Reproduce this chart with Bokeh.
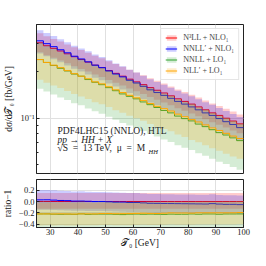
from bokeh.plotting import figure
from bokeh.layouts import column
from bokeh.models import (FixedTicker, Range1d, Legend, LegendItem, Label)
from bokeh.embed import file_html
from bokeh.resources import INLINE

# ---------------- data ----------------
t0_edges = [25.0, 27.5, 30.0, 32.5, 35.0, 37.5, 40.0, 42.5, 45.0, 47.5, 50.0,
            52.5, 55.0, 57.5, 60.0, 62.5, 65.0, 67.5, 70.0, 72.5, 75.0,
            77.5, 80.0, 82.5, 85.0, 87.5, 90.0, 92.5, 95.0, 97.5, 100.0]

n3ll_nlo1 = [0.305, 0.292, 0.281, 0.270, 0.259, 0.248, 0.238, 0.229, 0.219, 0.211,
             0.202, 0.194, 0.186, 0.178, 0.171, 0.164, 0.157, 0.151, 0.145, 0.139,
             0.133, 0.128, 0.123, 0.118, 0.113, 0.108, 0.104, 0.0998, 0.0957, 0.0918]
nnllp_nlo1 = [0.314, 0.301, 0.288, 0.275, 0.263, 0.250, 0.240, 0.230, 0.219, 0.211,
              0.201, 0.192, 0.184, 0.175, 0.168, 0.160, 0.152, 0.146, 0.140, 0.134,
              0.128, 0.123, 0.118, 0.113, 0.108, 0.104, 0.0993, 0.0948, 0.0909, 0.0868]
nnll_lo1 = [0.238, 0.228, 0.218, 0.209, 0.201, 0.192, 0.186, 0.177, 0.170, 0.164,
            0.157, 0.150, 0.143, 0.138, 0.133, 0.127, 0.122, 0.117, 0.112, 0.108,
            0.103, 0.0992, 0.0959, 0.0915, 0.0881, 0.0842, 0.0806, 0.0778, 0.0746, 0.0716]
nllp_lo1 = [0.238, 0.228, 0.219, 0.211, 0.202, 0.193, 0.186, 0.179, 0.171, 0.166,
            0.159, 0.152, 0.146, 0.140, 0.135, 0.130, 0.124, 0.119, 0.115, 0.111,
            0.106, 0.102, 0.0978, 0.0944, 0.0904, 0.0864, 0.0832, 0.0798, 0.0766, 0.0739]

# relative scale-uncertainty (up, down) of each prediction
series_names = ["N³LL + NLO₁", "NNLL′ + NLO₁", "NNLL + LO₁", "NLL′ + LO₁"]
series_vals = [n3ll_nlo1, nnllp_nlo1, nnll_lo1, nllp_lo1]
unc_up = [0.15, 0.17, 0.28, 0.25]
unc_dn = [0.13, 0.17, 0.35, 0.26]
line_colors = ["#ff0000", "#0000ff", "#2ca02c", "#ffa500"]
band_colors = ["#ff0000", "#0000ff", "#2ca02c", "#ffa500"]

x_ticks = [30, 40, 50, 60, 70, 80, 90, 100]
ratio_ticks = [-0.4, -0.2, 0.0, 0.2]
ratio_labels = {-0.4: "−0.4", -0.2: "−0.2", 0.0: "0.0", 0.2: "0.2"}

FONT = "Liberation Serif"
FS = "8.5px"
INK = "#222222"


def step_xy(edges, vals):
    xs, ys = [], []
    for i, v in enumerate(vals):
        xs += [edges[i], edges[i + 1]]
        ys += [v, v]
    return xs, ys


def style_axis(ax):
    ax.major_tick_in = 3
    ax.major_tick_out = 0
    ax.minor_tick_in = 2
    ax.minor_tick_out = 0
    ax.axis_line_color = INK
    ax.major_tick_line_color = INK
    ax.minor_tick_line_color = INK
    ax.major_label_text_font = FONT
    ax.major_label_text_color = INK
    ax.major_label_text_font_size = FS
    ax.major_label_standoff = 2
    ax.axis_label_text_font = FONT
    ax.axis_label_text_font_size = "9.5px"
    ax.axis_label_text_font_style = "normal"
    ax.axis_label_text_color = INK
    ax.axis_label_standoff = 3


def frame_style(fig):
    fig.outline_line_color = INK
    fig.outline_line_width = 1
    fig.background_fill_color = "white"
    fig.border_fill_color = "white"


# ---------------- main panel ----------------
p = figure(frame_width=207, frame_height=149, y_axis_type="log",
           x_range=Range1d(25, 100), y_range=Range1d(0.044, 0.40),
           output_backend="svg", toolbar_location=None,
           min_border_left=25, min_border_right=12, min_border_top=24, min_border_bottom=5)
frame_style(p)

xt = FixedTicker(ticks=x_ticks, minor_ticks=[])
yt = FixedTicker(ticks=[0.1], minor_ticks=[0.05, 0.06, 0.07, 0.08, 0.09, 0.2, 0.3, 0.4])
p.xaxis.ticker = xt
p.yaxis.ticker = yt
style_axis(p.yaxis[0])
p.xaxis.visible = False
p.yaxis.major_label_overrides = {0.1: "10⁻¹"}
p.yaxis.axis_label = "dσ/d𝒯₀ [fb/GeV]"
p.xgrid.ticker = xt
p.ygrid.ticker = yt
p.xgrid.grid_line_color = "#e0e0e0"
p.ygrid.grid_line_color = "#e0e0e0"

items = []
for name, vals, up, dn, lc, bc in zip(series_names, series_vals, unc_up, unc_dn,
                                      line_colors, band_colors):
    xs, ys = step_xy(t0_edges, vals)
    hi = [y * (1 + up) for y in ys]
    lo = [y * (1 - dn) for y in ys]
    a = p.varea(x=xs, y1=lo, y2=hi, fill_color=bc, fill_alpha=0.2)
    ln = p.line(xs, ys, line_color=lc, line_width=1)
    items.append(LegendItem(label=name, renderers=[a, ln]))

legend = Legend(items=items, location="top_right",
                label_text_font=FONT, label_text_font_size="8px",
                glyph_width=12, glyph_height=7, label_height=7,
                spacing=2, padding=4, margin=4, label_standoff=6,
                border_line_color="#cccccc", background_fill_alpha=0.85)
p.add_layout(legend)

ann_lines = ["PDF4LHC15 (NNLO), HTL", "pp → HH + X", "√S\u2002=\u200213 TeV,\u2002μ\u2002=\u2002M"]
for i, txt in enumerate(ann_lines):
    lab = Label(x=21, y=37.5 - i * 8.5, x_units="screen", y_units="screen", text=txt,
                text_font=FONT, text_font_size="9.5px", text_color=INK,
                text_font_style="italic" if i == 1 else "normal")
    p.add_layout(lab)
p.add_layout(Label(x=112, y=18.5, x_units="screen", y_units="screen", text="HH",
                   text_font=FONT, text_font_size="6.5px", text_color=INK,
                   text_font_style="italic"))

# ---------------- ratio panel ----------------
r = figure(frame_width=207, frame_height=48, x_range=p.x_range, y_range=Range1d(-0.46, 0.39),
           output_backend="svg", toolbar_location=None,
           min_border_left=25, min_border_right=12, min_border_top=1, min_border_bottom=20)
frame_style(r)
rt = FixedTicker(ticks=ratio_ticks, minor_ticks=[])
r.xaxis.ticker = xt
r.yaxis.ticker = rt
style_axis(r.xaxis[0])
style_axis(r.yaxis[0])
r.yaxis.major_label_overrides = ratio_labels
r.yaxis.axis_label = "ratio−1"
r.xaxis.axis_label = "𝒯₀ [GeV]"
r.xaxis.major_label_standoff = 1
r.xaxis.axis_label_standoff = 0
r.xgrid.ticker = xt
r.ygrid.ticker = rt
r.xgrid.grid_line_color = "#e0e0e0"
r.ygrid.grid_line_color = "#e0e0e0"

ref = n3ll_nlo1
for name, vals, up, dn, lc, bc in zip(series_names, series_vals, unc_up, unc_dn,
                                      line_colors, band_colors):
    rel = [v / rv - 1 for v, rv in zip(vals, ref)]
    rhi = [v * (1 + up) / rv - 1 for v, rv in zip(vals, ref)]
    rlo = [v * (1 - dn) / rv - 1 for v, rv in zip(vals, ref)]
    xs, ys = step_xy(t0_edges, rel)
    _, yh = step_xy(t0_edges, rhi)
    _, yl = step_xy(t0_edges, rlo)
    r.varea(x=xs, y1=yl, y2=yh, fill_color=bc, fill_alpha=0.2)
    r.line(xs, ys, line_color=lc, line_width=1)

layout = column(p, r, spacing=0)
open("out.html", "w").write(file_html(layout, INLINE))
